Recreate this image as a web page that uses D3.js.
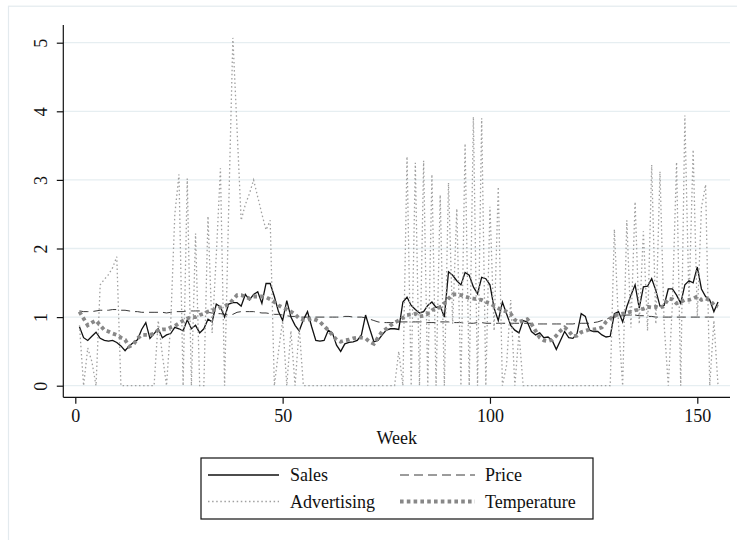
<!DOCTYPE html>
<html>
<head>
<meta charset="utf-8">
<script src="https://cdn.jsdelivr.net/npm/d3@7"></script>
<style>
  body { margin: 0; background: #fff; }
</style>
</head>
<body>
<div class="chart"></div>
<script>
// data (weekly index values, week 1..155)
const sales = [
  0.86, 0.70, 0.66, 0.72, 0.78, 0.69, 0.66, 0.65, 0.66, 0.63,
  0.58, 0.51, 0.58, 0.63, 0.67, 0.82, 0.92, 0.69, 0.76, 0.83,
  0.70, 0.74, 0.76, 0.85, 0.83, 0.80, 0.96, 0.83, 0.88, 0.77,
  0.83, 0.97, 0.93, 1.19, 1.15, 1.00, 1.19, 1.21, 1.21, 1.16,
  1.33, 1.25, 1.33, 1.37, 1.20, 1.49, 1.49, 1.30, 1.08, 0.95,
  1.24, 1.00, 0.88, 0.80, 0.96, 1.08, 0.86, 0.66, 0.65, 0.66,
  0.81, 0.77, 0.59, 0.50, 0.61, 0.63, 0.64, 0.66, 0.74, 1.03,
  0.83, 0.64, 0.66, 0.74, 0.81, 0.83, 0.83, 0.82, 1.22, 1.29,
  1.17, 1.11, 1.06, 1.08, 1.17, 1.22, 1.14, 1.16, 1.00, 1.66,
  1.61, 1.53, 1.47, 1.65, 1.61, 1.44, 1.34, 1.58, 1.56, 1.47,
  1.13, 0.95, 1.22, 1.05, 0.88, 0.81, 0.77, 0.95, 0.93, 0.79,
  0.74, 0.77, 0.70, 0.71, 0.66, 0.53, 0.66, 0.79, 0.70, 0.69,
  0.76, 1.05, 1.01, 0.81, 0.79, 0.79, 0.74, 0.71, 0.72, 1.05,
  1.08, 0.93, 1.15, 1.32, 1.47, 1.13, 1.44, 1.45, 1.56, 1.39,
  1.16, 1.17, 1.41, 1.41, 1.32, 1.20, 1.47, 1.53, 1.50, 1.73,
  1.41, 1.30, 1.25, 1.08, 1.22
];

const price = [
  1.09, 1.08, 1.08, 1.08, 1.09, 1.10, 1.10, 1.10, 1.11, 1.11,
  1.10, 1.10, 1.09, 1.08, 1.08, 1.07, 1.07, 1.07, 1.07, 1.07,
  1.07, 1.06, 1.07, 1.08, 1.08, 1.08, 1.09, 1.09, 1.09, 1.09,
  1.08, 1.07, 1.06, 1.05, 1.05, 1.04, 1.03, 1.04, 1.07, 1.08,
  1.08, 1.08, 1.08, 1.07, 1.06, 1.06, 1.05, 1.04, 1.04, 1.03,
  1.02, 1.01, 1.01, 1.00, 1.00, 1.00, 1.00, 1.00, 1.00, 1.00,
  1.00, 1.00, 1.00, 1.00, 1.01, 1.01, 1.00, 1.00, 1.00, 0.99,
  0.97, 0.95, 0.93, 0.92, 0.92, 0.92, 0.92, 0.93, 0.93, 0.93,
  0.93, 0.93, 0.93, 0.93, 0.92, 0.92, 0.92, 0.93, 0.93, 0.93,
  0.92, 0.92, 0.92, 0.91, 0.91, 0.91, 0.92, 0.92, 0.91, 0.91,
  0.91, 0.91, 0.91, 0.91, 0.91, 0.91, 0.91, 0.91, 0.91, 0.91,
  0.90, 0.90, 0.90, 0.90, 0.90, 0.90, 0.90, 0.90, 0.90, 0.90,
  0.91, 0.91, 0.91, 0.91, 0.92, 0.93, 0.95, 0.97, 0.99, 1.00,
  1.01, 1.02, 1.03, 1.03, 1.03, 1.02, 1.02, 1.01, 1.01, 1.00,
  1.00, 1.00, 1.00, 1.00, 1.00, 1.00, 1.00, 1.00, 1.00, 1.00,
  1.00, 1.00, 1.00, 1.00, 1.00
];

const advertising = [
  0.88, 0, 0.55, 0.35, 0, 1.47, 1.55, 1.62, 1.72, 1.88,
  0, 0, 0, 0, 0, 0, 0, 0, 0, 0.95,
  0.45, 0, 0.9, 2.5, 3.08, 0, 3.02, 0, 2.22, 0,
  0, 2.47, 0.77, 1.9, 3.17, 0, 2.6, 5.07, 3.75, 2.41,
  2.64, 2.8, 3.0, 2.75, 2.5, 2.27, 2.41, 0, 0.5, 0.95,
  0, 0.8, 0, 0.85, 0, 0, 0, 0, 0, 0,
  0, 0, 0, 0, 0, 0, 0, 0, 0, 0,
  0, 0, 0, 0, 0, 0, 0, 0.5, 0, 3.34,
  0, 3.25, 0, 3.28, 0, 3.08, 0, 2.78, 0, 2.96,
  0.9, 2.58, 0, 3.53, 0, 3.92, 0, 3.9, 0, 2.61,
  0.8, 2.9, 0, 0.3, 1.25, 0, 0.77, 0, 0, 0,
  0, 0, 0, 0, 0, 0, 0, 0, 0, 0,
  0, 0, 0, 0, 0, 0, 0, 0, 0, 2.28,
  0.9, 0, 2.41, 0.85, 2.68, 0.9, 2.25, 0.8, 3.22, 0.9,
  3.12, 0.9, 0, 1.2, 3.26, 0, 3.94, 1.2, 3.44, 1.0,
  2.6, 2.93, 0, 0.95, 0
];

const temperature = [
  1.08, 0.98, 0.88, 0.92, 0.95, 0.88, 0.81, 0.79, 0.76, 0.74,
  0.70, 0.67, 0.57, 0.60, 0.69, 0.74, 0.74, 0.74, 0.76, 0.81,
  0.82, 0.82, 0.85, 0.87, 0.91, 0.95, 0.98, 1.00, 1.00, 1.03,
  1.05, 1.08, 1.10, 1.11, 1.14, 1.16, 1.19, 1.25, 1.32, 1.32,
  1.30, 1.27, 1.30, 1.30, 1.30, 1.29, 1.26, 1.22, 1.17, 1.14,
  1.11, 1.08, 1.04, 0.98, 0.96, 0.96, 0.98, 0.96, 0.93, 0.87,
  0.81, 0.74, 0.67, 0.64, 0.66, 0.67, 0.69, 0.70, 0.70, 0.69,
  0.64, 0.61, 0.70, 0.79, 0.83, 0.88, 0.92, 0.95, 0.99, 1.03,
  1.04, 1.05, 1.01, 1.02, 1.05, 1.10, 1.13, 1.14, 1.20, 1.27,
  1.33, 1.33, 1.32, 1.30, 1.28, 1.27, 1.26, 1.25, 1.22, 1.20,
  1.16, 1.13, 1.10, 1.08, 1.05, 0.96, 0.93, 0.95, 0.97, 0.90,
  0.80, 0.70, 0.66, 0.65, 0.67, 0.73, 0.80, 0.85, 0.80, 0.72,
  0.73, 0.78, 0.80, 0.82, 0.82, 0.83, 0.85, 0.93, 0.98, 1.02,
  1.04, 1.05, 1.06, 1.08, 1.10, 1.11, 1.12, 1.15, 1.14, 1.15,
  1.13, 1.17, 1.27, 1.26, 1.20, 1.22, 1.25, 1.25, 1.27, 1.30,
  1.25, 1.27, 1.25, 1.18, 1.15
];

const xTicks = [0, 50, 100, 150];
const yTicks = [0, 1, 2, 3, 4, 5];
const xTitle = "Week";

const fontFamily = '"Liberation Serif"';

// series styles (Stata mono look)
const series = [
  { name: "Sales", values: sales, color: "#111", width: 1.3, dash: null },
  { name: "Price", values: price, color: "#222", width: 0.9, dash: "9,5" },
  { name: "Advertising", values: advertising, color: "#a0a0a0", width: 1.3, dash: "1.5,2.6" },
  { name: "Temperature", values: temperature, color: "#888", width: 3.8, dash: "3.6,3.2" },
];

const width = 737;
const height = 540;

// plot region
const plot = { left: 63.3, right: 730, top: 25, bottom: 397.3 };

const x = d3.scaleLinear().domain([0, 150]).range([75.3, 697.3]);
const y = d3.scaleLinear().domain([0, 5]).range([385.7, 42.7]);

const svg = d3
  .select(".chart")
  .append("svg")
  .attr("width", width)
  .attr("height", height);

svg.append("rect").attr("width", width).attr("height", height).attr("fill", "#fff");

// outer graph frame (cropped on the right / bottom like the original)
svg
  .append("rect")
  .attr("x", 8.5)
  .attr("y", 6.2)
  .attr("width", 800)
  .attr("height", 600)
  .attr("fill", "none")
  .attr("stroke", "#e3eaee")
  .attr("stroke-width", 1.2);

// gridlines
svg
  .append("g")
  .selectAll("line")
  .data(yTicks)
  .enter()
  .append("line")
  .attr("x1", plot.left)
  .attr("x2", plot.right)
  .attr("y1", (d) => y(d))
  .attr("y2", (d) => y(d))
  .attr("stroke", "#e6eef1")
  .attr("stroke-width", 1.3);

// y axis
const yAxis = svg
  .append("g")
  .attr("transform", "translate(" + plot.left + ",0)")
  .call(d3.axisLeft(y).tickValues(yTicks).tickSize(6.5).tickSizeOuter(0).tickFormat(d3.format("d")));
yAxis.select(".domain").attr("d", "M0," + plot.top + "V" + plot.bottom).attr("stroke", "#111").attr("stroke-width", 1.2);
yAxis.selectAll(".tick line").attr("stroke", "#111").attr("stroke-width", 1.2);
yAxis
  .selectAll(".tick text")
  .attr("x", null)
  .attr("dy", null)
  .attr("transform", "translate(-16.5,0) rotate(-90)")
  .attr("text-anchor", "middle")
  .attr("fill", "#111");

// x axis
const xAxis = svg
  .append("g")
  .attr("transform", "translate(0," + plot.bottom + ")")
  .call(d3.axisBottom(x).tickValues(xTicks).tickSize(6.5).tickSizeOuter(0).tickFormat(d3.format("d")));
xAxis.select(".domain").attr("d", "M" + plot.left + ",0H" + plot.right).attr("stroke", "#111").attr("stroke-width", 1.2);
xAxis.selectAll(".tick line").attr("stroke", "#111").attr("stroke-width", 1.2);
xAxis
  .selectAll(".tick text")
  .attr("y", 24.5)
  .attr("dy", null)
  .attr("fill", "#111");

svg
  .append("text")
  .attr("x", (plot.left + plot.right) / 2)
  .attr("y", 444)
  .attr("text-anchor", "middle")
  .attr("fill", "#111")
  .text(xTitle);

// lines
const line = d3
  .line()
  .x((d, i) => x(i + 1))
  .y((d) => y(d));

svg
  .append("g")
  .selectAll("path")
  .data(series)
  .enter()
  .append("path")
  .attr("d", (d) => line(d.values))
  .attr("fill", "none")
  .attr("stroke", (d) => d.color)
  .attr("stroke-width", (d) => d.width)
  .attr("stroke-dasharray", (d) => d.dash)
  .attr("stroke-linejoin", "miter")
  .attr("stroke-linecap", "butt");

// legend
const legend = svg.append("g");
legend
  .append("rect")
  .attr("x", 201)
  .attr("y", 458)
  .attr("width", 392)
  .attr("height", 61)
  .attr("fill", "#fff")
  .attr("stroke", "#111")
  .attr("stroke-width", 1.2);

const item = legend
  .selectAll("g")
  .data(series)
  .enter()
  .append("g")
  .attr("transform", (d, i) => "translate(" + (i % 2 ? 400 : 208) + "," + (i < 2 ? 475 : 501.5) + ")");

item
  .append("line")
  .attr("x1", 0)
  .attr("x2", (d, i) => (i % 2 ? 75 : 71))
  .attr("stroke", (d) => d.color)
  .attr("stroke-width", (d) => d.width)
  .attr("stroke-dasharray", (d) => d.dash);

item
  .append("text")
  .attr("x", (d, i) => (i % 2 ? 85 : 82))
  .attr("y", 6.3)
  .attr("fill", "#111")
  .text((d) => d.name);

// same serif face and size on every text
svg.selectAll("text").style("font-family", fontFamily).style("font-size", "18px");
</script>
</body>
</html>
